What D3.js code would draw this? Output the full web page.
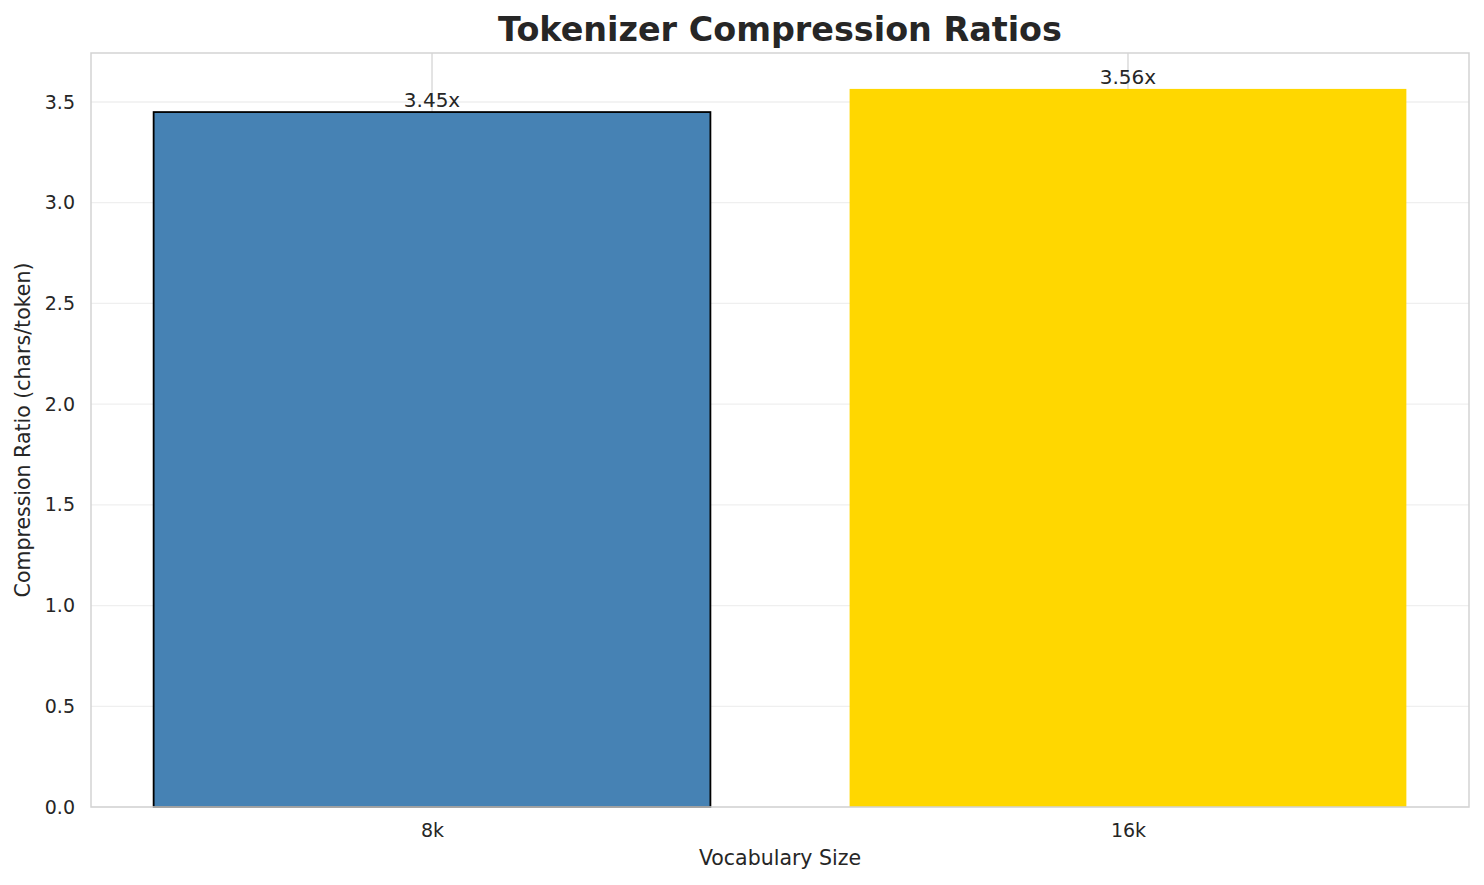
<!DOCTYPE html>
<meta charset="utf-8">
<style>
html, body { margin: 0; overflow: hidden; background: #fff; }
text { font-family: "DejaVu Sans", sans-serif; fill: #262626; }
</style>
<body>
<script src="https://d3js.org/d3.v7.min.js"></script>
<script>

var vocab = ["8k", "16k"],
    ratios = [3.45, 3.565],
    labels = ["3.45x", "3.56x"],
    colors = ["steelblue", "gold"],
    edges = ["#000", "none"],
    yTicks = [0, 0.5, 1.0, 1.5, 2.0, 2.5, 3.0, 3.5];

var width = 1484,
    height = 885,
    pLeft = 91, pRight = 1469, pTop = 53, pBottom = 807;

var svg = d3.select("body").append("svg")
  .attr("width", width)
  .attr("height", height);

// categories sit at 0,1 with bar width 0.8, like matplotlib
var x = d3.scaleLinear().domain([-0.49, 1.49]).range([pLeft, pRight]);
var y = d3.scaleLinear().domain([0, d3.max(ratios) * 1.05]).range([pBottom, pTop]);

// horizontal grid
svg.append("g")
  .selectAll("line")
  .data(yTicks)
  .enter().append("line")
  .attr("x1", pLeft).attr("x2", pRight)
  .attr("y1", function(d) { return y(d); })
  .attr("y2", function(d) { return y(d); })
  .style("stroke", "#efefef")
  .style("stroke-width", 1.3);

// vertical grid at category ticks
svg.append("g")
  .selectAll("line")
  .data(vocab)
  .enter().append("line")
  .attr("x1", function(d, i) { return x(i); })
  .attr("x2", function(d, i) { return x(i); })
  .attr("y1", pTop).attr("y2", pBottom)
  .style("stroke", "#d5d5d5")
  .style("stroke-width", 1.3);

// bars
svg.append("g")
  .selectAll("rect")
  .data(ratios)
  .enter().append("rect")
  .attr("x", function(d, i) { return x(i - 0.4); })
  .attr("width", x(0.4) - x(-0.4))
  .attr("y", function(d) { return y(d); })
  .attr("height", function(d) { return y(0) - y(d); })
  .style("fill", function(d, i) { return colors[i]; })
  .style("stroke", function(d, i) { return edges[i]; })
  .style("stroke-width", 1.8);

// value labels
svg.append("g")
  .selectAll("text")
  .data(ratios)
  .enter().append("text")
  .attr("x", function(d, i) { return x(i); })
  .attr("y", function(d) { return y(d) - 5; })
  .attr("text-anchor", "middle")
  .style("font-size", "20px")
  .text(function(d, i) { return labels[i]; });

// spines
svg.append("rect")
  .attr("x", pLeft).attr("y", pTop)
  .attr("width", pRight - pLeft).attr("height", pBottom - pTop)
  .style("fill", "none")
  .style("stroke", "#d3d3d3")
  .style("stroke-width", 1.5);

// y axis ticks
var yAxis = svg.append("g")
  .attr("transform", "translate(" + pLeft + ",0)")
  .call(d3.axisLeft(y).tickValues(yTicks).tickFormat(d3.format(".1f")).tickSize(0).tickPadding(16));
yAxis.select(".domain").remove();
yAxis.selectAll("text")
  .style("font-size", "19px")
  .style("font-family", "DejaVu Sans, sans-serif")
  .style("fill", "#262626");

// x axis ticks
var xAxis = svg.append("g")
  .attr("transform", "translate(0," + pBottom + ")")
  .call(d3.axisBottom(x).tickValues([0, 1]).tickFormat(function(d) { return vocab[d]; }).tickSize(0).tickPadding(17));
xAxis.select(".domain").remove();
xAxis.selectAll("text")
  .style("font-size", "19px")
  .style("font-family", "DejaVu Sans, sans-serif")
  .style("fill", "#262626");

// axis titles
svg.append("text")
  .attr("x", (pLeft + pRight) / 2)
  .attr("y", 865)
  .attr("text-anchor", "middle")
  .style("font-size", "20.5px")
  .text("Vocabulary Size");

svg.append("text")
  .attr("transform", "translate(30," + (pTop + pBottom) / 2 + ") rotate(-90)")
  .attr("text-anchor", "middle")
  .style("font-size", "20.5px")
  .text("Compression Ratio (chars/token)");

svg.append("text")
  .attr("x", (pLeft + pRight) / 2)
  .attr("y", 41)
  .attr("text-anchor", "middle")
  .style("font-size", "33.4px")
  .style("font-weight", "bold")
  .text("Tokenizer Compression Ratios");

</script>
